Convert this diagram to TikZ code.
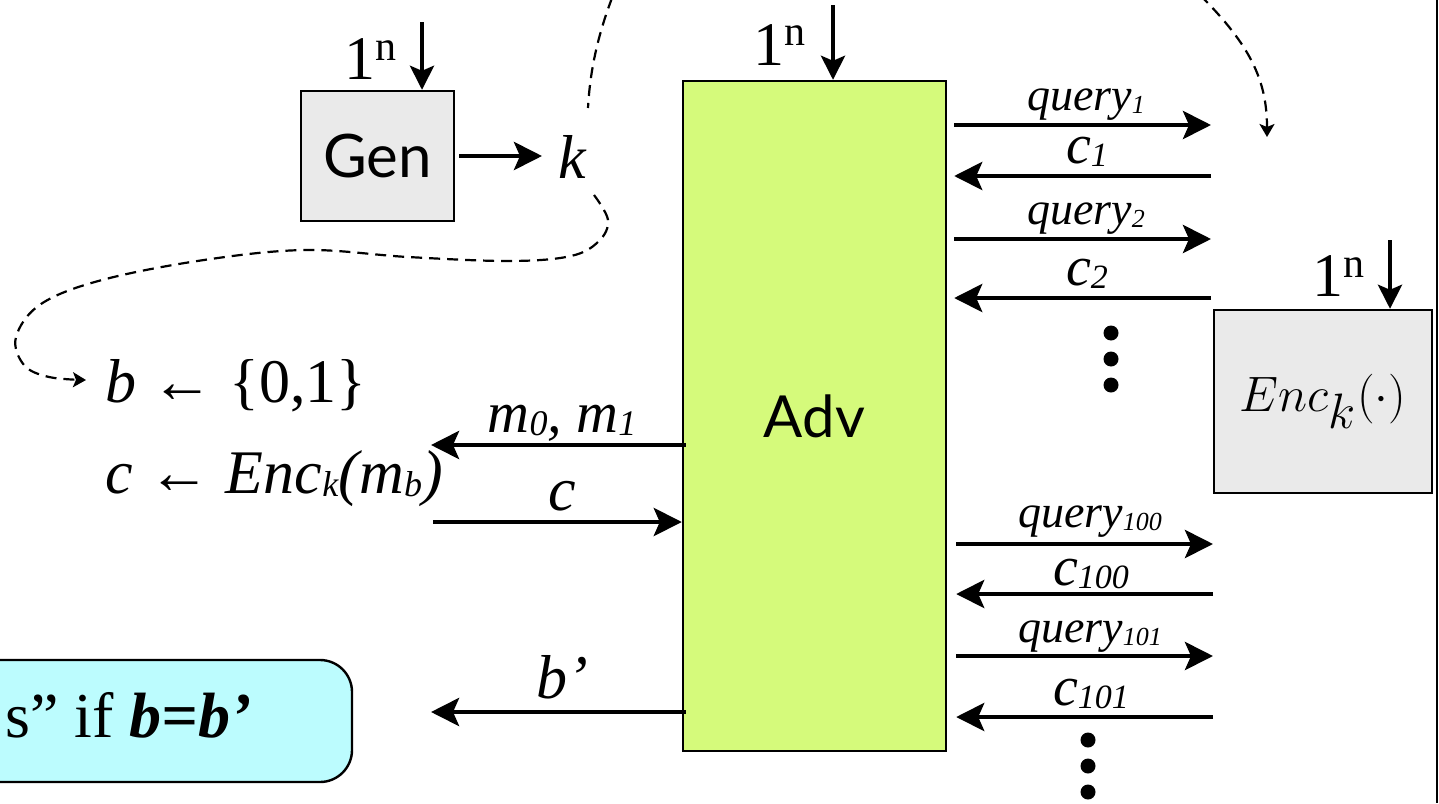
\documentclass[tikz,border=0pt]{standalone}
\usepackage{fontspec}
\setmainfont{Liberation Serif}
\newfontfamily\gillfont{Lato}
\usetikzlibrary{arrows.meta}
\definecolor{advgreen}{RGB}{213,250,123}
\definecolor{boxgray}{RGB}{234,234,234}
\definecolor{rescyan}{RGB}{188,252,254}
\newcommand\myfs[1]{\fontsize{#1}{#1}\selectfont}
\newcommand\subsc[2]{\raisebox{-1.8pt}{\myfs{#1}\textit{#2}}}
\begin{document}
\begin{tikzpicture}[x=0.5pt,y=-0.5pt,
  boxstyle/.style={draw, line width=1.2pt, inner sep=0pt},
  bigarr/.style={line width=2.3pt, -{Stealth[length=14pt,width=14pt,inset=3pt]}},
  inarr/.style={line width=2.1pt, -{Stealth[length=12pt,width=12pt,inset=2.5pt]}},
  dashline/.style={line width=1.1pt, dash pattern=on 5.5pt off 3.5pt},
  dtip/.style={-{Stealth[length=6.5pt,width=7.5pt,inset=1.5pt]}},
  lbl/.style={inner sep=0pt, anchor=base},
  dot/.style={circle, fill, inner sep=0pt, minimum size=7.5pt},
]
\useasboundingbox (0,0) rectangle (1439,803);
\clip (0,0) rectangle (1439,803);

% boxes
\node[boxstyle, fill=boxgray, minimum width=76.5pt, minimum height=65pt] (gen) at (377.5,156) {\gillfont\myfs{30}Gen};
\node[boxstyle, fill=advgreen, minimum width=131.5pt, minimum height=335pt] (adv) at (814.5,416) {\gillfont\myfs{29}Adv};
\node[boxstyle, fill=boxgray, minimum width=109pt, minimum height=91.5pt] (enc) at (1323,401.5) {\myfs{33}$Enc_k(\cdot)$};
\node[boxstyle, fill=rescyan, rounded corners=16pt, minimum width=206pt, minimum height=61pt] (res) at (146,721) {};
\node[lbl, anchor=base east] (restxt) at (252,737) {\myfs{32}s” if \textbf{\textit{b=b’}}};

% 1^n inputs
\node[lbl, anchor=base west] (ng) at (344,79) {\myfs{31}1\raisebox{9.5pt}{\myfs{21}n}};
\coordinate (gin) at (422,22);
\draw[inarr] (gin) -- (gin |- gen.north);
\node[lbl, anchor=base west] (na) at (753,65) {\myfs{31}1\raisebox{9.5pt}{\myfs{21}n}};
\coordinate (ain) at (833,5);
\draw[inarr] (ain) -- (ain |- adv.north);
\node[lbl, anchor=base west] (ne) at (1312,296) {\myfs{31}1\raisebox{9.5pt}{\myfs{21}n}};
\coordinate (ein) at (1390,240);
\draw[inarr] (ein) -- (ein |- enc.north);

% Gen -> k
\node[lbl, anchor=base west] (k) at (558,178) {\myfs{31}\textit{k}};
\draw[bigarr, shorten <=2pt, shorten >=8pt] (gen.east) -- (k.west |- gen.east);

% left texts
\node[lbl, anchor=base west] (bsel) at (105,402) {\myfs{31}\textit{b} ← \{0,1\}};
\node[lbl, anchor=base west] (cenc) at (105,493) {\myfs{31}\textit{c} ← \textit{Enc}\subsc{18}{k}\textit{(m}\subsc{18}{b}\textit{)}};

% left arrows
\coordinate (mL) at (431,445);
\draw[bigarr, shorten <=-2pt] (adv.west |- mL) -- (mL);
\node[lbl] (lm) at (562,432) {\myfs{29}\textit{m}\subsc{18}{0}\textit{, m}\subsc{18}{1}};
\coordinate (cL) at (433,522);
\draw[bigarr] (cL) -- (adv.west |- cL);
\node[lbl] (lc) at (562,510) {\myfs{31}\textit{c}};
\coordinate (bL) at (431,712);
\draw[bigarr, shorten <=-2pt] (adv.west |- bL) -- (bL);
\node[lbl] (lb) at (562,698) {\myfs{31}\textit{b’}};

% right arrows
\coordinate (r1) at (1211,125);
\coordinate (r2) at (1211,176);
\coordinate (r3) at (1211,239);
\coordinate (r4) at (1211,298);
\coordinate (r5) at (1213,544);
\coordinate (r6) at (1213,594);
\coordinate (r7) at (1213,656);
\coordinate (r8) at (1213,717);
\draw[bigarr, shorten <=3.5pt] (adv.east |- r1) -- (r1);
\draw[bigarr, shorten >=3.5pt] (r2) -- (adv.east |- r2);
\draw[bigarr, shorten <=3.5pt] (adv.east |- r3) -- (r3);
\draw[bigarr, shorten >=3.5pt] (r4) -- (adv.east |- r4);
\draw[bigarr, shorten <=4.5pt] (adv.east |- r5) -- (r5);
\draw[bigarr, shorten >=4.5pt] (r6) -- (adv.east |- r6);
\draw[bigarr, shorten <=4.5pt] (adv.east |- r7) -- (r7);
\draw[bigarr, shorten >=4.5pt] (r8) -- (adv.east |- r8);
\node[lbl] (lq1) at (1086,110) {\myfs{23}\textit{query}\subsc{13}{1}};
\node[lbl] (lc1) at (1087,163) {\myfs{28}\textit{c}\subsc{17}{1}};
\node[lbl] (lq2) at (1086,224) {\myfs{23}\textit{query}\subsc{13}{2}};
\node[lbl] (lc2) at (1087,285) {\myfs{28}\textit{c}\subsc{17}{2}};
\node[lbl] (lq3) at (1090,527) {\myfs{23}\textit{query}\subsc{13}{100}};
\node[lbl] (lc3) at (1091,585) {\myfs{28}\textit{c}\subsc{17}{100}};
\node[lbl] (lq4) at (1090,642) {\myfs{23}\textit{query}\subsc{13}{101}};
\node[lbl] (lc4) at (1091,705) {\myfs{28}\textit{c}\subsc{17}{101}};

% dots
\node[dot] (d1) at (1111,333) {};
\node[dot] (d2) at (1111,359) {};
\node[dot] (d3) at (1111,385) {};
\node[dot] (d4) at (1088,740) {};
\node[dot] (d5) at (1088,766) {};
\node[dot] (d6) at (1088,792) {};

% dashed curves
\coordinate (dA0) at (612,-2);
\coordinate (dA1) at (588,108);
\draw[dashline] (dA0) .. controls (598,35) and (590,70) .. (dA1);
\coordinate (dB0) at (594,195);
\coordinate (dB1) at (86,380);
\draw[dashline, dtip] plot[smooth, tension=0.6] coordinates {(dB0) (608,220) (599,241) (571,256) (510,261) (408,257) (306,250) (204,260) (102,280) (41,304) (16,337) (24,365) (49,377) (dB1)};
\coordinate (dC0) at (1200,-5);
\coordinate (dC1) at (1267,137);
\draw[dashline, dtip] (dC0) .. controls (1250,45) and (1267,80) .. (dC1);

% right frame line
\coordinate (f0) at (1437,0);
\coordinate (f1) at (1437,803);
\draw[line width=0.8pt] (f0) -- (f1);
\end{tikzpicture}
\end{document}
